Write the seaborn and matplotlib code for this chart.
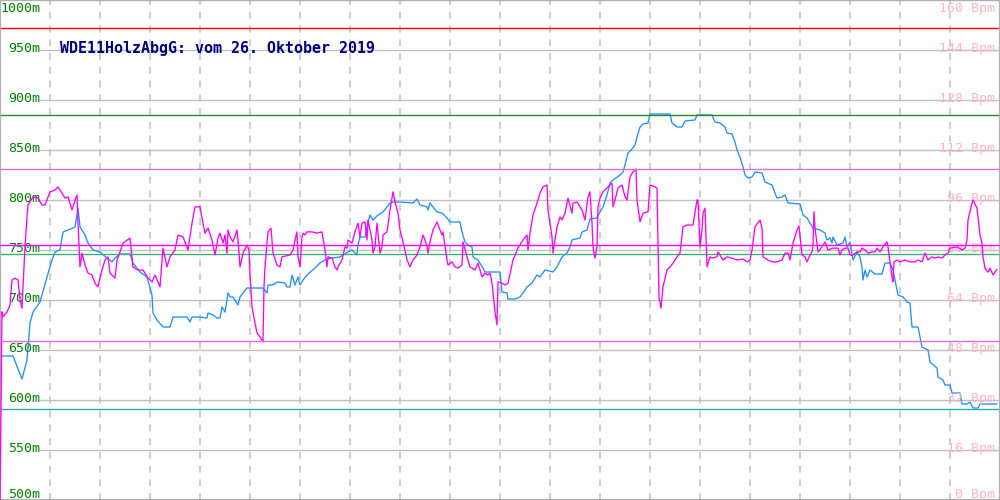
import pandas as pd
import seaborn as sns
import matplotlib.pyplot as plt
import numpy as np

sns.set_style("white")
plt.rcParams['font.family'] = ['DejaVu Sans Mono', 'DejaVu Sans']

title = "WDE11HolzAbgG: vom 26. Oktober 2019"

# altitude track (m) over distance
alt_x = [0, 1, 13, 22, 27, 30, 33, 40, 47, 52, 55, 60, 63, 68, 75, 78, 80, 85, 88, 93,
         100, 107, 112, 115, 120, 130, 133, 140, 147, 152, 153, 157, 163, 170, 173, 187, 190, 192, 200,
         207, 208, 213, 217, 220, 222, 225, 228, 230, 233, 238, 240, 243, 247, 263, 267, 268, 272, 278,
         285, 287, 290, 292, 295, 298, 300, 303, 307, 315, 320, 325, 332, 340, 343, 348, 352, 357, 358,
         360, 365, 368, 370, 373, 378, 383, 390, 393, 400, 413, 417, 420, 427, 428, 430, 433, 437, 442,
         447, 450, 460, 462, 465, 468, 472, 473, 478, 483, 485, 500, 502, 507, 508, 515, 520, 523, 527,
         532, 537, 540, 545, 553, 557, 562, 567, 570, 572, 580, 582, 587, 590, 597, 600, 603, 607, 610,
         613, 620, 623, 625, 628, 632, 635, 637, 640, 643, 648, 650, 670, 672, 677, 682, 685, 695, 697,
         712, 715, 720, 725, 727, 732, 735, 737, 740, 743, 745, 748, 752, 755, 762, 765, 772, 775, 777,
         782, 785, 788, 800, 803, 807, 810, 813, 820, 825, 827, 830, 832, 833, 837, 843, 845, 847, 850,
         853, 857, 860, 862, 863, 865, 867, 870, 875, 882, 885, 890, 893, 897, 898, 903, 907, 910, 912,
         918, 922, 928, 930, 937, 938, 943, 945, 950, 952, 960, 962, 967, 970, 973, 978, 980, 997]
alt_m = [572, 644, 644, 621, 640, 677, 688, 698, 723, 740, 748, 750, 768, 770, 773, 792, 773, 765, 757, 750,
         748, 742, 738, 742, 746, 746, 737, 728, 723, 705, 687, 680, 673, 673, 683, 683, 678, 683, 683,
         682, 687, 685, 682, 682, 693, 688, 707, 703, 703, 695, 703, 707, 712, 712, 707, 715, 715, 718,
         717, 713, 713, 725, 715, 723, 715, 720, 725, 732, 737, 740, 742, 743, 745, 748, 750, 745, 755,
         763, 763, 778, 785, 780, 785, 788, 797, 798, 798, 797, 801, 795, 793, 790, 797, 793, 788, 787,
         782, 778, 778, 768, 758, 755, 753, 743, 740, 732, 728, 728, 708, 707, 701, 701, 703, 707, 713,
         717, 725, 723, 730, 728, 733, 743, 747, 753, 760, 762, 768, 770, 781, 782, 788, 793, 805, 817,
         820, 825, 828, 835, 847, 851, 855, 863, 873, 876, 877, 886, 886, 877, 873, 873, 879, 880, 885,
         885, 878, 877, 873, 867, 866, 858, 850, 843, 833, 825, 822, 823, 828, 827, 818, 815, 807, 802,
         803, 805, 797, 796, 785, 782, 777, 772, 770, 767, 760, 762, 757, 763, 755, 757, 763, 753, 758,
         740, 748, 743, 733, 720, 730, 723, 730, 726, 726, 737, 737, 730, 710, 705, 703, 698, 697, 673,
         673, 653, 650, 638, 632, 623, 620, 615, 615, 607, 607, 596, 596, 598, 592, 592, 596, 596]

# heart rate (Bpm) over distance
hr_x = [0, 2, 3, 7, 10, 12, 15, 18, 20, 22, 23, 25, 27, 28, 33, 38, 42, 45, 50, 55, 58, 62, 65, 68,
        72, 75, 77, 78, 80, 82, 85, 88, 92, 95, 98, 102, 105, 108, 110, 115, 117, 120, 123, 130, 133,
        138, 143, 148, 152, 155, 158, 160, 163, 167, 170, 175, 178, 183, 188, 192, 195, 200, 203, 205,
        208, 212, 215, 218, 220, 223, 225, 227, 228, 230, 233, 237, 238, 240, 243, 247, 249, 250, 252,
        255, 257, 260, 263, 264, 265, 267, 268, 271, 272, 273, 277, 280, 282, 290, 293, 295, 297, 298,
        300, 302, 303, 305, 307, 312, 317, 322, 325, 327, 328, 332, 335, 337, 338, 342, 345, 347, 348,
        352, 355, 358, 360, 362, 365, 367, 368, 372, 373, 375, 377, 380, 382, 383, 387, 390, 393, 395,
        398, 400, 403, 407, 410, 413, 417, 420, 423, 425, 427, 428, 430, 433, 437, 440, 442, 443, 447,
        448, 452, 455, 458, 462, 463, 467, 470, 475, 478, 482, 485, 488, 490, 492, 495, 497, 498, 502,
        505, 508, 513, 518, 523, 527, 528, 530, 533, 537, 540, 543, 547, 548, 552, 553, 557, 560, 562,
        565, 568, 572, 573, 577, 582, 585, 588, 590, 592, 593, 595, 597, 598, 600, 603, 608, 612, 613,
        615, 618, 622, 625, 627, 630, 633, 636, 637, 640, 643, 648, 650, 655, 657, 658, 659, 661, 663,
        667, 670, 673, 677, 680, 683, 687, 693, 697, 698, 700, 702, 703, 705, 707, 710, 712, 717, 718,
        723, 727, 732, 737, 743, 747, 750, 752, 755, 760, 762, 763, 768, 772, 777, 782, 785, 788, 790,
        793, 797, 799, 802, 805, 807, 810, 812, 813, 814, 815, 818, 822, 825, 828, 833, 838, 840, 842,
        845, 848, 850, 853, 857, 860, 862, 865, 868, 872, 875, 877, 880, 883, 887, 888, 890, 892, 893,
        894, 897, 900, 905, 910, 915, 918, 922, 925, 928, 932, 935, 938, 942, 945, 948, 950, 957, 962,
        965, 967, 968, 972, 973, 977, 980, 982, 983, 985, 988, 990, 993, 997]
hr_bpm = [0, 60.2, 58.6, 60.2, 62.4, 70.4, 71.0, 70.4, 64.0, 61.4, 68.2, 81.0, 90.6, 94.4, 97.0, 96.6,
          94.4, 94.4, 98.6, 99.2, 100.2, 98.2, 96.6, 97.0, 92.8, 96.0, 97.6, 88.6, 74.6, 79.0, 75.2, 72.6,
          72.0, 69.4, 68.2, 73.6, 76.8, 77.8, 72.6, 71.0, 76.8, 79.4, 82.2, 83.8, 74.6, 73.6, 73.6, 71.0,
          69.8, 72.0, 69.8, 68.2, 80.6, 74.6, 77.8, 80.0, 84.8, 84.2, 80.0, 88.6, 93.8, 93.8, 88.6, 85.4,
          87.0, 83.2, 78.4, 83.8, 85.4, 82.2, 84.8, 79.0, 86.4, 84.2, 82.6, 86.4, 83.2, 74.6, 79.0, 81.6,
          80.0, 72.0, 61.8, 56.6, 53.4, 52.2, 50.6, 68.2, 74.6, 82.2, 85.8, 87.0, 83.2, 79.0, 75.2, 74.6,
          77.8, 78.4, 80.0, 83.2, 85.8, 77.8, 74.6, 84.2, 85.4, 84.8, 85.8, 85.8, 85.4, 85.8, 80.0, 74.6,
          77.8, 77.4, 74.6, 73.6, 74.6, 76.8, 81.0, 80.6, 83.2, 82.2, 85.8, 88.6, 84.2, 88.6, 89.0, 83.2,
          89.6, 83.2, 79.0, 81.0, 88.6, 79.0, 81.0, 84.8, 85.8, 92.8, 98.6, 95.4, 91.8, 86.4, 82.6, 76.8,
          74.6, 76.8, 78.4, 81.0, 84.8, 83.2, 81.0, 79.0, 82.6, 86.4, 89.0, 86.4, 84.8, 85.8, 76.8, 75.2,
          76.2, 74.6, 74.2, 75.2, 82.6, 77.8, 74.6, 73.6, 75.8, 71.4, 72.6, 72.0, 72.6, 69.4, 60.2, 56.0,
          69.8, 69.4, 68.8, 69.4, 76.8, 80.6, 83.2, 84.8, 80.0, 85.4, 91.2, 95.0, 98.2, 100.2, 100.8, 92.8,
          84.2, 79.0, 87.4, 90.6, 89.6, 91.8, 96.6, 91.8, 95.0, 95.4, 92.8, 89.6, 97.0, 98.6, 88.6, 81.0,
          77.4, 81.0, 93.8, 96.6, 98.6, 100.2, 101.4, 93.8, 96.0, 99.8, 100.8, 97.0, 96.0, 103.4, 105.0,
          105.9, 96.0, 89.0, 91.8, 92.2, 100.8, 100.2, 99.8, 82.2, 65.0, 61.4, 68.2, 73.6, 74.6, 75.8,
          77.8, 79.0, 87.4, 88.0, 88.0, 96.0, 96.0, 81.0, 86.4, 91.8, 93.4, 74.6, 77.8, 77.4, 77.8, 79.4,
          76.8, 77.8, 77.4, 76.8, 77.1, 76.2, 76.8, 80.0, 87.4, 89.6, 87.0, 77.8, 76.8, 76.2, 76.2, 76.8,
          79.0, 79.0, 76.8, 82.2, 86.4, 87.7, 78.4, 77.8, 76.2, 78.4, 79.4, 81.6, 92.2, 87.0, 79.4, 81.0,
          82.6, 80.0, 80.6, 80.6, 78.4, 80.0, 80.6, 80.6, 78.4, 78.4, 79.4, 79.4, 80.6, 80.0, 79.0, 79.4,
          79.4, 80.6, 79.4, 81.0, 82.6, 81.0, 76.2, 71.4, 69.8, 76.2, 76.8, 76.2, 76.8, 76.2, 76.2, 76.8,
          76.2, 79.0, 76.8, 77.8, 77.4, 77.8, 77.4, 78.4, 79.0, 80.6, 81.0, 80.0, 80.6, 83.2, 89.6, 95.0,
          96.0, 93.4, 84.8, 82.2, 77.8, 74.2, 72.9, 74.2, 72.0, 73.9]

# summary lines
alt_limit = 972
alt_max, alt_avg, alt_min = 885.5, 746, 591
hr_max, hr_avg, hr_min = 105.9, 81.6, 50.9

alt_ticks = list(range(500, 1001, 50))
hr_ticks = list(range(0, 161, 16))

alt_df = pd.DataFrame({'x': alt_x, 'alt': alt_m})
hr_df = pd.DataFrame({'x': hr_x, 'hr': hr_bpm})

fig = plt.figure(figsize=(10, 5), dpi=100)
ax = fig.add_axes([0, 0, 1, 1])
ax.set_xlim(0, 1000)
ax.set_ylim(500, 1000)
ax2 = ax.twinx()
ax2.set_ylim(0, 160)

# grid
for v in alt_ticks:
    ax.plot([40, 1000], [v, v], color='#c0c0c0', lw=1.0, zorder=1)
for gx in range(50, 1000, 50):
    ax.axvline(gx, color='#c0c0c0', lw=1.1, ls=(0, (4.5, 4.5)), zorder=1)

# left labels
for v in alt_ticks:
    y = v + 1.5
    if v == 1000:
        y = 992
    if v == 500:
        y = 506
    ax.text(40, y, f"{v}m", color='#008000', fontsize=9.5, ha='right', va='center', zorder=2)

# right labels
for v in hr_ticks:
    y = v + 0.48
    if v == 160:
        y = 157.4
    if v == 0:
        y = 1.9
    ax2.text(995, y, f"{v} Bpm", color='#ffb6c1', fontsize=9.5, ha='right', va='center', zorder=2)

sns.lineplot(data=alt_df, x='x', y='alt', ax=ax, color='#1e90ff', lw=0.95, sort=False,
             estimator=None, zorder=3)
sns.lineplot(data=hr_df, x='x', y='hr', ax=ax2, color='#ff00ff', lw=0.95, sort=False,
             estimator=None, zorder=3)

ax.axhline(alt_limit, color='#ff0000', lw=1.0, zorder=4)
ax.axhline(alt_max, color='#228b22', lw=1.0, zorder=4)
ax.axhline(alt_avg, color='#3cb371', lw=1.0, zorder=4)
ax.axhline(alt_min, color='#20b2aa', lw=1.0, zorder=4)
ax2.axhline(hr_max, color='#da70d6', lw=1.0, zorder=4)
ax2.axhline(hr_avg, color='#ff00ff', lw=1.0, zorder=4)
ax2.axhline(hr_min, color='#da70d6', lw=1.0, zorder=4)

ax.text(60, 952, title, color='#000080', fontsize=10.8, fontweight='bold', ha='left', va='center', zorder=5)

for a in (ax, ax2):
    a.set_xticks([])
    a.set_yticks([])
    a.set_xlabel('')
    a.set_ylabel('')
    for s in a.spines.values():
        s.set_color('#b0b0b0')
        s.set_linewidth(1.5)

fig.savefig("out.png", dpi=100)
